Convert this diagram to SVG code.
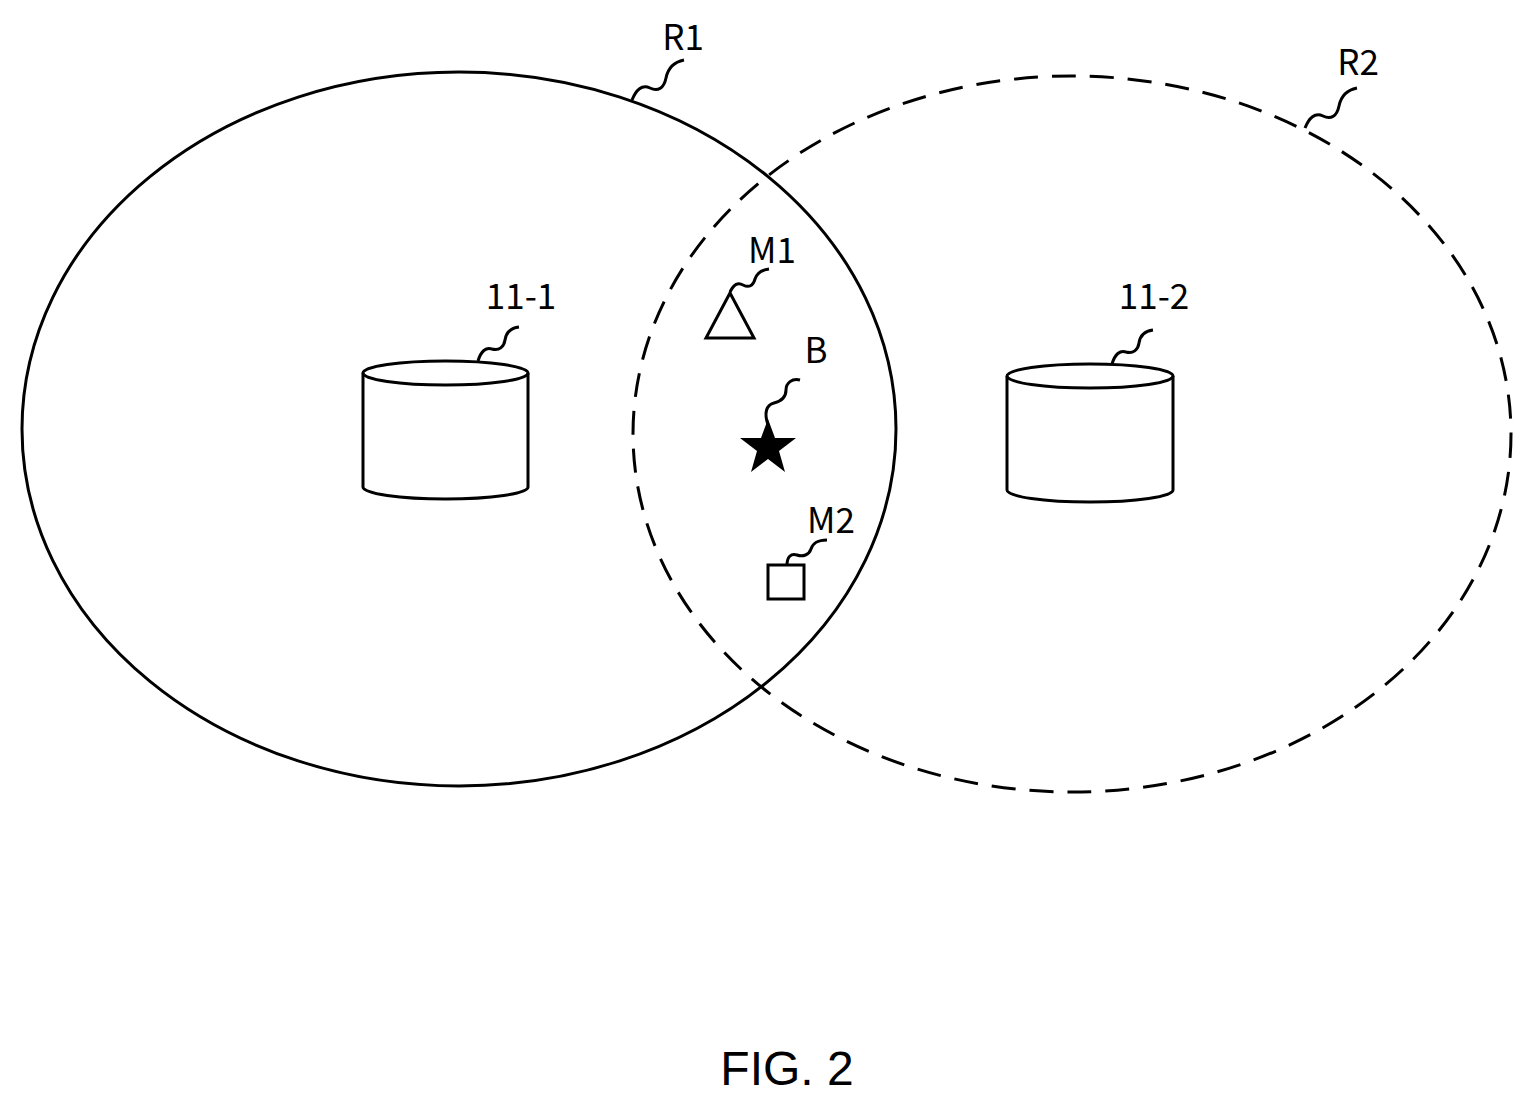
<svg xmlns="http://www.w3.org/2000/svg" width="1532" height="1107" viewBox="0 0 1532 1107">
<style>
.l{fill:none;stroke:#000;stroke-width:3}
.t{font-family:"Noto Sans CJK JP","DejaVu Sans",sans-serif;font-size:35px;fill:#000}
</style>
<rect width="1532" height="1107" fill="#fff"/>
<g id="R1"><ellipse class="l" cx="459" cy="429" rx="437" ry="357"/>
<path class="l" d="M632,100 c4,-10 10,-16 18,-12 c8,4 14,0 16,-10 c2,-10 8,-16 18,-18"/>
<text class="t" x="683" y="50" text-anchor="middle">R1</text></g>
<g id="R2"><ellipse class="l" cx="1072" cy="434" rx="439" ry="358" stroke-dasharray="24,14"/>
<path class="l" d="M1305,128 c4,-10 10,-16 18,-12 c8,4 14,0 16,-10 c2,-10 8,-16 18,-18"/>
<text class="t" x="1358" y="75" text-anchor="middle">R2</text></g>
<g id="n11-1">
<path class="l" d="M363,373 V487 A82.5,12 0 0 0 528,487 V373"/>
<ellipse class="l" cx="445.5" cy="373" rx="82.5" ry="12"/>
<path class="l" d="M478,361 c3,-10 8,-14 14,-12 c7,2 12,-2 13,-9 c1,-7 6,-12 14,-13"/>
<text class="t" x="521" y="309" text-anchor="middle">11-1</text></g>
<g id="n11-2">
<path class="l" d="M1007,376 V490 A83,12 0 0 0 1173,490 V376"/>
<ellipse class="l" cx="1090" cy="376" rx="83" ry="12"/>
<path class="l" d="M1112,364 c3,-10 8,-14 14,-12 c7,2 12,-2 13,-9 c1,-7 6,-12 14,-13"/>
<text class="t" x="1154" y="309" text-anchor="middle">11-2</text></g>
<g id="M1">
<polygon class="l" points="730,293 706,338 754,338"/>
<path class="l" d="M730,292 c4,-8 8,-10 13,-7 c6,3 10,1 12,-6 c2,-6 6,-9 14,-10"/>
<text class="t" x="772" y="263" text-anchor="middle">M1</text></g>
<g id="B">
<polygon fill="#000" points="768,419 775,438 796,438 779,451 785,472 768,459 751,472 757,451 740,438 761,438"/>
<path class="l" d="M768,425 c-4,-12 -2,-20 6,-22 c8,-2 12,-6 12,-13 c0,-7 6,-12 14,-10"/>
<text class="t" x="816" y="363" text-anchor="middle">B</text></g>
<g id="M2">
<rect class="l" x="768" y="565" width="36" height="34"/>
<path class="l" d="M787,565 c0,-8 4,-12 10,-10 c6,2 12,0 14,-6 c2,-6 6,-9 16,-9"/>
<text class="t" x="831" y="533" text-anchor="middle">M2</text></g>
<text x="787" y="1085" text-anchor="middle" font-family="Liberation Sans,sans-serif" font-size="48">FIG. 2</text>
</svg>
